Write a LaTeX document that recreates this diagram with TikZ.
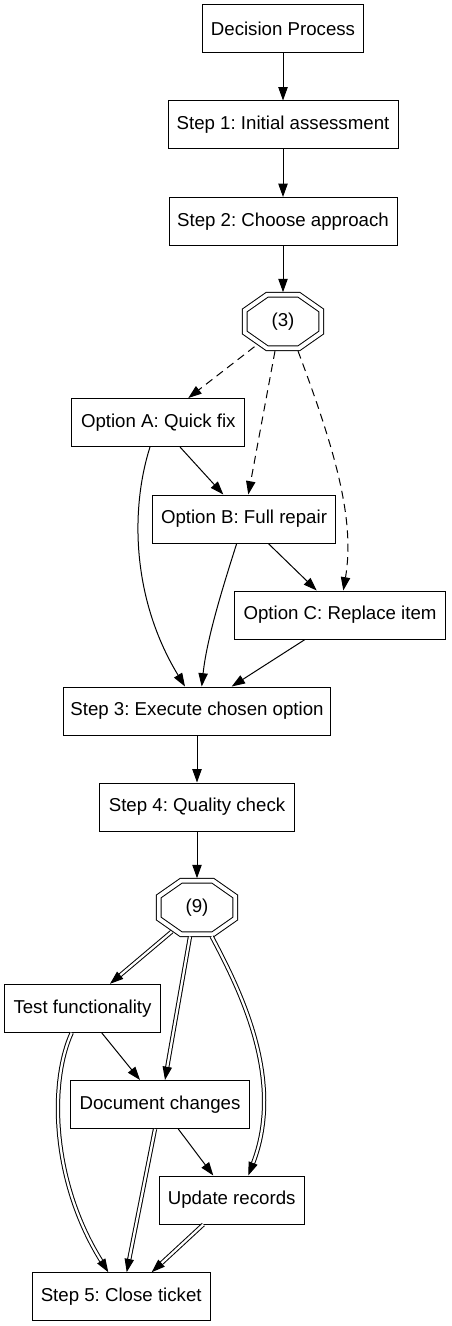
\documentclass[tikz,border=0pt]{standalone}
\usepackage{fontspec}
\setmainfont{Liberation Sans}
\usetikzlibrary{arrows.meta,calc}

\tikzset{
  box/.style={draw, rectangle, line width=0.75pt, minimum height=36pt, inner sep=0pt,
    font=\fontsize{14}{16}\selectfont\frenchspacing},
  oct/.style={minimum width=57pt, minimum height=39.8pt, inner sep=0pt,
    font=\fontsize{14}{16}\selectfont},
  octline/.style={draw, line width=0.75pt, double, double distance=2.9pt},
  arr/.style={line width=0.75pt, -{Triangle[length=10pt,width=7pt]}},
  dsh/.style={arr, dash pattern=on 6pt off 4pt},
  dbl/.style={arr, double, double distance=1.7pt},
}

\newcommand{\octframe}[1]{%
  \draw[octline] ($(#1.north west)!0.293!(#1.north east)$)
    -- ($(#1.north west)!0.707!(#1.north east)$)
    -- ($(#1.north east)!0.293!(#1.south east)$)
    -- ($(#1.north east)!0.707!(#1.south east)$)
    -- ($(#1.south east)!0.293!(#1.south west)$)
    -- ($(#1.south east)!0.707!(#1.south west)$)
    -- ($(#1.south west)!0.293!(#1.north west)$)
    -- ($(#1.south west)!0.707!(#1.north west)$) -- cycle;}

\begin{document}
\begin{tikzpicture}[x=0.75pt, y=-0.75pt]
    \useasboundingbox (0,0) rectangle (451,1326);

    \node[box, minimum width=121pt] (dec) at (283,29) {Decision Process};
    \node[box, minimum width=172.5pt] (s1) at (283,125) {Step 1: Initial assessment};
    \node[box, minimum width=171pt] (s2) at (283,221.5) {Step 2: Choose approach};
    \node[oct] (o3) at (283,321.5) {(3)};
    \octframe{o3}
    \node[box, minimum width=130pt] (optA) at (158.3,422.5) {Option A: Quick fix};
    \node[box, minimum width=137.5pt] (optB) at (244,519) {Option B: Full repair};
    \node[box, minimum width=158.5pt] (optC) at (340,615) {Option C: Replace item};
    \node[box, minimum width=200.8pt] (s3) at (197,711) {Step 3: Execute chosen option};
    \node[box, minimum width=145.7pt] (s4) at (197,807) {Step 4: Quality check};
    \node[oct] (o9) at (197,907.5) {(9)};
    \octframe{o9}
    \node[box, minimum width=116.3pt] (test) at (82.5,1008.3) {Test functionality};
    \node[box, minimum width=134pt] (doc) at (160,1104.5) {Document changes};
    \node[box, minimum width=109pt] (upd) at (231.7,1200) {Update records};
    \node[box, minimum width=133.3pt] (s5) at (121.2,1296.7) {Step 5: Close ticket};

    \draw[arr] (dec) -- (s1);
    \draw[arr] (s1) -- (s2);
    \draw[arr] (s2.south) -- ($(o3.north)+(0,-2.5)$);

    \draw[dsh] ($(o3)+(-28.5,25.2)$) -- ($(optA.north)+(30,0)$);
    \draw[dsh] ($(o3)+(-8,29.5)$) -- ($(optB.north)+(4.3,0)$);
    \draw[dsh] ($(o3)+(15,29.5)$) .. controls +(37,99) and +(12,-71)
      .. ($(optC.north)+(3.3,0)$);

    \draw[arr] ($(optA.south)+(21.7,0)$) -- ($(optB.north)+(-20.7,0)$);
    \draw[arr] ($(optA.south)+(-8.3,0)$) .. controls +(-20,63) and +(-53,-87)
      .. ($(s3.north)+(-12,0)$);
    \draw[arr] ($(optB.south)+(-7.3,0)$) .. controls +(-15,47) and +(5,-47)
      .. ($(s3.north)+(4.7,0)$);
    \draw[arr] ($(optB.south)+(24.3,0)$) -- ($(optC.north)+(-23.3,0)$);
    \draw[arr] ($(optC.south)+(-35,0)$) -- ($(s3.north)+(34.7,0)$);

    \draw[arr] (s3) -- (s4);
    \draw[arr] (s4.south) -- ($(o9.north)+(0,-2.5)$);

    \draw[dbl] ($(o9)+(-25.3,24.2)$) -- ($(test.north)+(27.5,0)$);
    \draw[dbl] ($(o9)+(-7,29)$) -- ($(doc.north)+(5,0)$);
    \draw[dbl] ($(o9)+(14.7,29)$) .. controls +(28,53) and +(37,-96)
      .. ($(upd.north)+(16.6,0)$);

    \draw[arr] ($(test.south)+(19.2,0)$) -- ($(doc.north)+(-20,0)$);
    \draw[dbl] ($(test.south)+(-10.8,0)$) .. controls +(-22,48) and +(-58,-93)
      .. ($(s5.north)+(-12.9,0)$);
    \draw[dbl] ($(doc.south)+(-5,0)$) -- ($(s5.north)+(5.5,0)$);
    \draw[arr] ($(doc.south)+(18.3,0)$) -- ($(upd.north)+(-18.4,0)$);
    \draw[dbl] ($(upd.south)+(-28.4,0)$) -- ($(s5.north)+(30.5,0)$);
  \end{tikzpicture}
\end{document}
